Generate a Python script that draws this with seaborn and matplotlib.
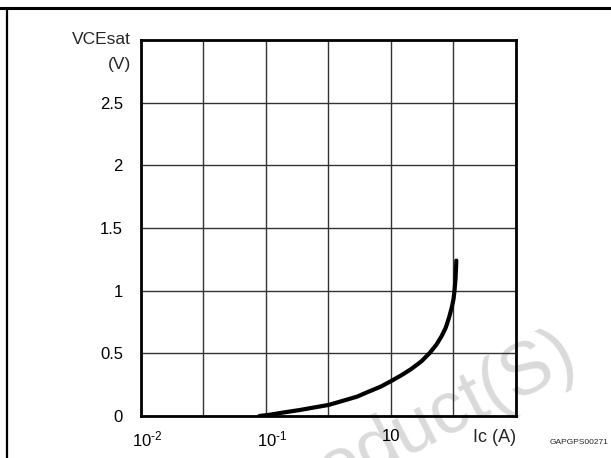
import matplotlib
matplotlib.use('Agg')
import matplotlib.pyplot as plt
import matplotlib.transforms as mtransforms
from matplotlib.lines import Line2D
import pandas as pd
import seaborn as sns

# curve
ic_amps = [0.0885, 0.107, 0.136, 0.187, 0.239, 0.316, 0.418, 0.537, 0.647, 0.830,
           1.0, 1.205, 1.452, 1.75, 2.04, 2.31, 2.54, 2.74, 2.91, 3.06,
           3.16, 3.22, 3.28, 3.32, 3.33]
vce_sat = [0.0, 0.010, 0.027, 0.048, 0.067, 0.088, 0.123, 0.155, 0.190, 0.235,
           0.278, 0.324, 0.375, 0.436, 0.503, 0.570, 0.637, 0.704, 0.784, 0.864,
           0.930, 0.998, 1.092, 1.199, 1.24]

x_ticks = [0.01, 0.0316, 0.1, 0.316, 1.0, 3.16, 10.0]
x_tick_labels = [r'$10^{\text{-}2}$', '', r'$10^{\text{-}1}$', '', '10', '', '']
y_ticks = [0, 0.5, 1, 1.5, 2, 2.5, 3]
y_tick_labels = ['0', '0.5', '1', '1.5', '2', '2.5', '']

sns.set_style('white')
plt.rcParams['font.family'] = ['Liberation Sans', 'DejaVu Sans']
plt.rcParams['mathtext.fontset'] = 'custom'
plt.rcParams['mathtext.rm'] = 'Liberation Sans'
plt.rcParams['mathtext.it'] = 'Liberation Sans'

df = pd.DataFrame({'Ic': ic_amps, 'VCEsat': vce_sat})

fig = plt.figure(figsize=(6.11, 4.58), dpi=100)
ax = fig.add_axes([141 / 611, 42 / 458, 375 / 611, 376 / 458])
ax.patch.set_alpha(0)

sns.lineplot(data=df, x='Ic', y='VCEsat', ax=ax, color='black', lw=3.0,
             sort=False, estimator=None, solid_joinstyle='round')

ax.set_xscale('log')
ax.set_xlim(0.01, 10)
ax.set_ylim(0, 3)
ax.set_xticks(x_ticks)
ax.set_xticklabels(x_tick_labels)
ax.set_yticks(y_ticks)
ax.set_yticklabels(y_tick_labels)
ax.xaxis.set_minor_locator(matplotlib.ticker.NullLocator())
ax.tick_params(axis='both', length=0, labelsize=12, colors='black')
ax.tick_params(axis='x', pad=9.5)
ax.tick_params(axis='y', pad=13)
ax.set_xlabel('')
ax.set_ylabel('')
ax.grid(True, color='#333333', lw=1.0)

# shift superscripted labels so the "10" sits on its gridline
for lab in ax.get_xticklabels():
    if lab.get_text().startswith('$'):
        off = mtransforms.ScaledTranslation(6 / 100, 0, fig.dpi_scale_trans)
        lab.set_transform(lab.get_transform() + off)

for s in ax.spines.values():
    s.set_color('black')
    s.set_linewidth(2)

ax.text(-0.027, 1.0, 'VCEsat', transform=ax.transAxes, ha='right', va='center', fontsize=12.5)
ax.text(-0.027, 0.935, '(V)', transform=ax.transAxes, ha='right', va='center', fontsize=12.5)
ax.text(1.0, -0.058, 'Ic (A)', transform=ax.transAxes, ha='right', va='center', fontsize=13)
fig.text(608 / 611, 1 - 443 / 458, 'GAPGPS00271', ha='right', va='center', fontsize=6)

# faint watermark behind the plot
fig.text(580 / 611, 1 - 366 / 458, 'Product(S)', ha='right', va='baseline',
         rotation_mode='anchor', fontsize=53, color='#dadada', rotation=27, zorder=-1)

# page frame
fig.add_artist(Line2D([0, 1], [1 - 8 / 458, 1 - 8 / 458], color='black', lw=2.2,
                      transform=fig.transFigure))
fig.add_artist(Line2D([7 / 611, 7 / 611], [0, 1 - 8 / 458], color='black', lw=1.6,
                      transform=fig.transFigure))

plt.savefig('out.png', dpi=100)
